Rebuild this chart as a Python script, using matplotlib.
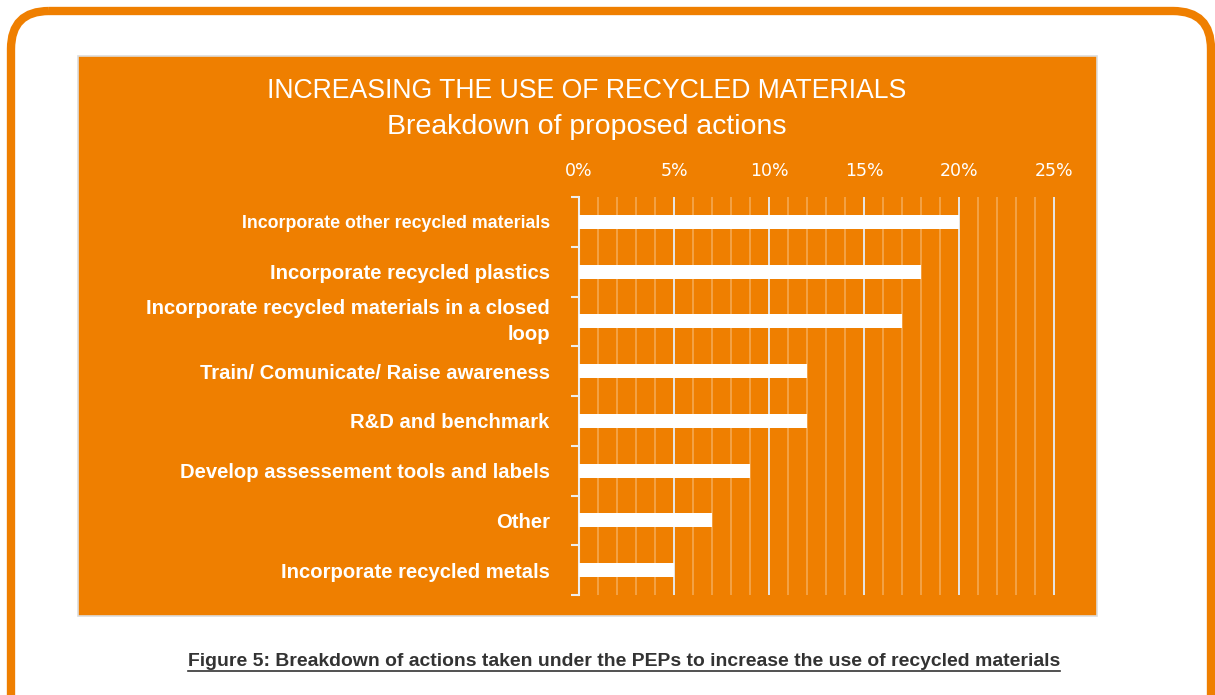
import matplotlib.pyplot as plt
from matplotlib.patches import FancyBboxPatch, Rectangle
import numpy as np

ORANGE = '#EF7F00'

categories = [
    'Incorporate other recycled materials',
    'Incorporate recycled plastics',
    'Incorporate recycled materials in a closed\nloop',
    'Train/ Comunicate/ Raise awareness',
    'R&D and benchmark',
    'Develop assessement tools and labels',
    'Other',
    'Incorporate recycled metals',
]
shares = [20, 18, 17, 12, 12, 9, 7, 5]
x_ticks = [0, 5, 10, 15, 20, 25]
x_labels = ['0%', '5%', '10%', '15%', '20%', '25%']

title = 'INCREASING THE USE OF RECYCLED MATERIALS'
subtitle = 'Breakdown of proposed actions'
caption = 'Figure 5: Breakdown of actions taken under the PEPs to increase the use of recycled materials'

narrow = ['Liberation Sans', 'DejaVu Sans']

W, H = 1215, 695
fig = plt.figure(figsize=(W / 100, H / 100), dpi=100)
fig.patch.set_facecolor('white')

# background layer in pixel coordinates
bg = fig.add_axes([0, 0, 1, 1])
bg.set_xlim(0, W)
bg.set_ylim(H, 0)
bg.axis('off')

frame = FancyBboxPatch((11, 11), W - 15, H + 40, boxstyle='round,pad=0,rounding_size=38',
                       fc='none', ec=ORANGE, lw=6)
bg.add_patch(frame)
bg.add_patch(Rectangle((78, 56), 1019, 560, fc=ORANGE, ec='#dddddd', lw=1.2))

bg.text(587, 91, title, ha='center', va='center', color='white', fontsize=19.2, family=narrow)
bg.text(587, 127, subtitle, ha='center', va='center', color='white', fontsize=20.5, family=narrow)
cap = bg.text(624, 661, caption, ha='center', va='center', color='#333333', fontsize=13.95,
              fontweight='bold', family=narrow)

# chart
x0, x1, y0, y1 = 579, 1058, 197, 595
ax = fig.add_axes([x0 / W, 1 - y1 / H, (x1 - x0) / W, (y1 - y0) / H])
ax.set_facecolor('none')
ypos = np.arange(len(categories))
ax.barh(ypos, shares, height=0.28, color='white', zorder=3)
ax.set_xlim(0, 25.2)
ax.set_ylim(len(categories) - 0.5, -0.5)

ax.set_xticks(x_ticks)
ax.set_xticklabels(x_labels)
ax.set_xticks(np.arange(0, 26, 1), minor=True)
ax.xaxis.tick_top()
ax.tick_params(axis='x', which='both', length=0, pad=12, colors='white', labelsize=12.5)
ax.grid(axis='x', which='major', color='#e6e6e6', lw=1.4, zorder=1)
ax.grid(axis='x', which='minor', color='white', alpha=0.35, lw=1.1, zorder=1)

ax.set_yticks(ypos)
ax.set_yticklabels(categories, family=narrow, fontweight='bold', fontsize=14.6,
                   color='white', linespacing=1.45)
ylabels = ax.get_yticklabels()
ylabels[0].set_fontsize(12.8)
ylabels[2].set_verticalalignment('center')
ax.set_yticks(np.arange(-0.5, len(categories), 1), minor=True)
ax.tick_params(axis='y', which='major', length=0, pad=21)
ax.tick_params(axis='y', which='minor', length=6, width=1.5, color='#eeeeee')

for s in ['top', 'right', 'bottom']:
    ax.spines[s].set_visible(False)
ax.spines['left'].set_color('#eeeeee')
ax.spines['left'].set_linewidth(1.5)

# underline the caption
fig.canvas.draw()
bb = cap.get_window_extent()
ub = H - bb.y0 + 1
bg.plot([bb.x0, bb.x1], [ub, ub], color='#333333', lw=1.2)

fig.savefig('out.png', dpi=100, facecolor='white')
